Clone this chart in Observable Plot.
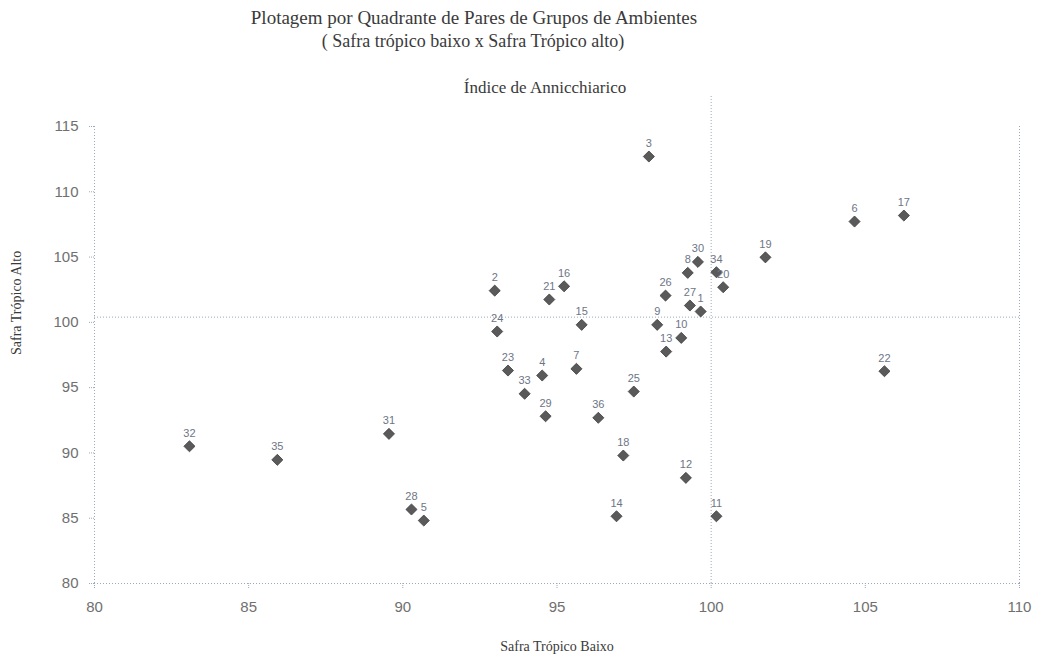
<!DOCTYPE html>
<html><head><meta charset="utf-8">
<script src="https://cdn.jsdelivr.net/npm/d3@7"></script>
<script src="https://cdn.jsdelivr.net/npm/@observablehq/plot@0.6"></script>
<style>
body{margin:0;background:#fff;}
#wrap{position:relative;width:1038px;height:661px;overflow:hidden;}
.t{position:absolute;font-family:"Liberation Serif","DejaVu Serif",serif;color:#3a3a3a;white-space:nowrap;transform:translateX(-50%);line-height:1;}
</style></head><body>
<div id="wrap">
<div class="t" style="left:474px;top:8px;font-size:19px;">Plotagem por Quadrante de Pares de Grupos de Ambientes</div>
<div class="t" style="left:473px;top:32px;font-size:18px;">( Safra trópico baixo x Safra Trópico alto)</div>
<div class="t" style="left:545px;top:79px;font-size:17px;">Índice de Annicchiarico</div>
</div>
<script>
const labels = ["1","2","3","4","5","6","7","8","9","10","11","12","13","14","15","16","17","18","19","20","21","22","23","24","25","26","27","28","29","30","31","32","33","34","35","36"];
const safraBaixo = [99.66,92.98,97.98,94.52,90.68,104.65,95.63,99.24,98.25,99.03,100.17,99.18,98.54,96.93,95.80,95.23,106.25,97.15,101.76,100.39,94.75,105.62,93.41,93.06,97.49,98.52,99.31,90.28,94.63,99.57,89.55,83.08,93.95,100.17,85.93,96.34];
const safraAlto = [100.83,102.43,112.70,95.93,84.82,107.72,96.44,103.79,99.81,98.81,85.15,88.09,97.76,85.15,99.81,102.76,108.18,89.80,104.98,102.69,101.75,96.26,96.31,99.30,94.70,102.05,101.29,85.67,92.81,104.63,91.46,90.51,94.53,103.84,89.47,92.69];
const xTicks = [80,85,90,95,100,105,110];
const yTicks = [80,85,90,95,100,105,110,115];
const meanBaixo = 100.0;
const meanAlto = 100.4;
const data = labels.map((l,i)=>({label:l,x:safraBaixo[i],y:safraAlto[i]}));
const lineColor = "#9aaabb";
const plot = Plot.plot({
  width:1038, height:661,
  marginLeft:94, marginRight:19, marginTop:126, marginBottom:78,
  x:{domain:[80,110], ticks:xTicks},
  y:{domain:[80,115], ticks:yTicks},
  style:{background:"transparent", fontFamily:"'Liberation Sans', Arial, sans-serif"},
  marks:[
    Plot.ruleY([80],{stroke:lineColor, strokeDasharray:"1,2"}),
    Plot.ruleX([80],{stroke:lineColor, strokeDasharray:"1,2"}),
    Plot.ruleX([110],{stroke:lineColor, strokeDasharray:"1,2"}),
    Plot.ruleY([meanAlto],{stroke:lineColor, strokeDasharray:"1,2"}),
    Plot.ruleX([meanBaixo],{y1:80, y2:117.4, stroke:lineColor, strokeDasharray:"1,2"}),
    Plot.axisX({ticks:xTicks, tickSize:6, tickPadding:12, fontSize:15, stroke:lineColor, fill:"#707070", strokeDasharray:"1,1", label:null}),
    Plot.axisY({ticks:yTicks, tickSize:6, tickPadding:10, fontSize:15, stroke:lineColor, fill:"#707070", strokeDasharray:"1,1", label:null}),
    Plot.dot(data,{x:"x", y:"y", symbol:"diamond2", r:5, fill:"#5a5a5a", stroke:"#3f3f3f", strokeWidth:0.8}),
    Plot.text(data,{x:"x", y:"y", text:"label", dy:-13, fontSize:11, fill:"#6d7585"}),
    Plot.text(["Safra Trópico Baixo"],{frameAnchor:"bottom", text:d=>d, dy:67, fontSize:14, fill:"#3a3a3a", fontFamily:"'Liberation Serif', serif"}),
    Plot.text(["Safra Trópico Alto"],{frameAnchor:"left", text:d=>d, rotate:-90, dx:-78, fontSize:14, fill:"#3a3a3a", fontFamily:"'Liberation Serif', serif"})
  ]
});
plot.style.position = "absolute";
plot.style.left = "0px";
plot.style.top = "0px";
document.getElementById("wrap").prepend(plot);
</script>
</body></html>
